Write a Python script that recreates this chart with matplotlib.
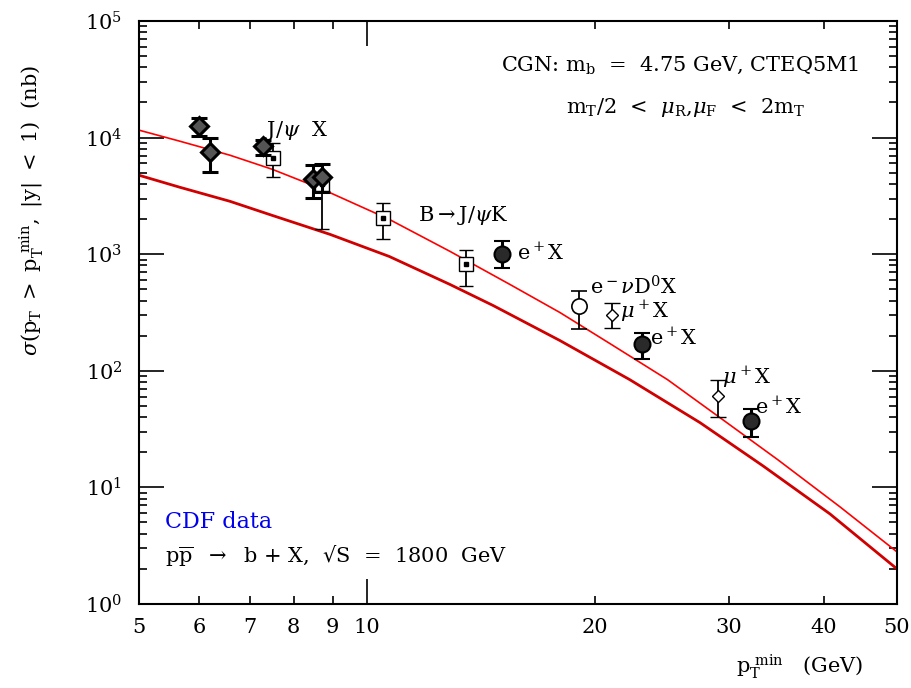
import numpy as np
import matplotlib
matplotlib.use("Agg")
import matplotlib.pyplot as plt
from matplotlib.ticker import FixedLocator, FixedFormatter, LogLocator, NullFormatter

plt.rcParams['font.family'] = ['DejaVu Serif']
plt.rcParams['mathtext.fontset'] = 'dejavuserif'

# theory curves (pT_min in GeV, sigma in nb)
upper_x = [5.0, 5.66, 6.59, 7.49, 8.67, 10.69, 12.86, 15.43, 17.96, 20.91,
           24.9, 29.21, 34.8, 42.05, 50.0]
upper_y = [11580, 9311, 7062, 5353, 3675, 1991, 1057, 550, 316, 171,
           84, 39.6, 17.3, 6.81, 2.8]
lower_x = [5.0, 5.66, 6.59, 7.49, 8.93, 10.69, 12.86, 14.66, 17.96, 22.2,
           27.49, 33.28, 40.78, 50.0]
lower_y = [4753, 3749, 2842, 2154, 1480, 957, 550, 363, 181.7, 84,
           35.9, 15.3, 5.93, 2.0]

# CDF data: J/psi X (filled diamonds)
jpsi_x = [6.0, 6.2, 7.29, 8.48, 8.72]
jpsi_y = [12500, 7490, 8440, 4390, 4570]
jpsi_hi = [14700, 9880, 9500, 5790, 5900]
jpsi_lo = [10280, 5040, 7060, 3010, 3400]

# B -> J/psi K (open squares)
bk_x = [7.51, 8.72, 10.49, 13.5]
bk_y = [6650, 3990, 2030, 817]
bk_hi = [8950, 5900, 2730, 1080]
bk_lo = [4570, 1633, 1340, 529]

# e+ X (filled circles)
ex_x = [15.06, 23.05, 32.1]
ex_y = [996, 171, 37.3]
ex_hi = [1290, 213, 47.3]
ex_lo = [755, 127, 27.2]

# e- nu D0 X (open circle)
ed_x = [19.04]
ed_y = [363]
ed_hi = [479]
ed_lo = [230]

# mu+ X (open diamonds)
mu_x = [21.04, 29.03]
mu_y = [298, 61.2]
mu_hi = [385, 84]
mu_lo = [235, 40.4]

fig = plt.figure(figsize=(9.11, 6.88), dpi=100)
ax = fig.add_axes([0.1526, 0.1221, 0.8320, 0.8474])

ax.plot(upper_x, upper_y, color='#ff0000', lw=1.2, zorder=2)
ax.plot(lower_x, lower_y, color='#d00000', lw=2.0, zorder=2)


def errs(y, lo, hi):
    y = np.array(y)
    return [y - np.array(lo), np.array(hi) - y]


# open squares (drawn under the diamonds)
ax.errorbar(bk_x, bk_y, yerr=errs(bk_y, bk_lo, bk_hi), fmt='s', ms=10,
            mfc='white', mec='black', mew=1.0, ecolor='black', elinewidth=1.3,
            capsize=5, capthick=1.3, zorder=3)
ax.plot(bk_x, bk_y, 's', ms=3, color='black', zorder=4)

ax.errorbar(jpsi_x, jpsi_y, yerr=errs(jpsi_y, jpsi_lo, jpsi_hi), fmt='D', ms=9,
            mfc='#555555', mec='black', mew=2.2, ecolor='black', elinewidth=2.2,
            capsize=6, capthick=2.2, zorder=5)

ax.errorbar(ex_x, ex_y, yerr=errs(ex_y, ex_lo, ex_hi), fmt='o', ms=11.5,
            mfc='#2a2a2a', mec='black', mew=1.5, ecolor='black', elinewidth=2.2,
            capsize=6, capthick=2.2, zorder=5)

ax.errorbar(ed_x, ed_y, yerr=errs(ed_y, ed_lo, ed_hi), fmt='o', ms=11,
            mfc='white', mec='black', mew=1.2, ecolor='black', elinewidth=1.3,
            capsize=6, capthick=1.3, zorder=5)

ax.errorbar(mu_x, mu_y, yerr=errs(mu_y, mu_lo, mu_hi), fmt='D', ms=6.5,
            mfc='white', mec='black', mew=1.0, ecolor='black', elinewidth=1.3,
            capsize=6, capthick=1.3, zorder=5)

ax.set_xscale('log')
ax.set_yscale('log')
ax.set_xlim(5, 50)
ax.set_ylim(1, 1e5)

ax.xaxis.set_major_locator(FixedLocator([10]))
ax.xaxis.set_major_formatter(FixedFormatter(['10']))
minor_x = [5, 6, 7, 8, 9, 20, 30, 40, 50]
ax.xaxis.set_minor_locator(FixedLocator(minor_x))
ax.xaxis.set_minor_formatter(FixedFormatter([str(v) for v in minor_x]))
ax.yaxis.set_major_locator(LogLocator(base=10, numticks=10))
ax.yaxis.set_minor_locator(LogLocator(base=10, subs=np.arange(2, 10), numticks=20))
ax.yaxis.set_minor_formatter(NullFormatter())

ax.tick_params(which='both', direction='in', top=True, right=True, width=1.2,
               labelsize=15)
ax.tick_params(which='major', length=18)
ax.tick_params(which='minor', length=6)
ax.tick_params(axis='x', which='both', pad=10)
ax.tick_params(axis='y', which='both', pad=12)
for s in ax.spines.values():
    s.set_linewidth(1.5)

ax.set_ylabel(r'$\sigma(\mathrm{p_T\ >\ p_T^{\ min},\ |y|\ <\ 1)\ \ (nb)}$', fontsize=15)
ax.yaxis.set_label_coords(-0.123, 0.676)
ax.set_xlabel(r'$\mathrm{p_T^{\ min}\ \ \ (GeV)}$', fontsize=15, va='center')
ax.xaxis.set_label_coords(0.872, -0.108)

ax.text(0.714, 0.925, r'CGN: m$_\mathrm{b}$  =  4.75 GeV, CTEQ5M1',
        transform=ax.transAxes, ha='center', va='center', fontsize=15)
ax.text(0.722, 0.851, r'm$_\mathrm{T}$/2  <  $\mu_\mathrm{R}$,$\mu_\mathrm{F}$  <  2m$_\mathrm{T}$',
        transform=ax.transAxes, ha='center', va='center', fontsize=15)
ax.text(0.034, 0.141, 'CDF data', color='#0000ee', transform=ax.transAxes,
        ha='left', va='center', fontsize=16)
ax.text(0.034, 0.082, r'p$\overline{\mathrm{p}}$  $\rightarrow$  b + X,  √S  =  1800  GeV',
        transform=ax.transAxes, ha='left', va='center', fontsize=15)

labels = [
    (7.33, 11580, r'J/$\psi$  X'),
    (11.67, 2155, r'B$\rightarrow$J/$\psi$K'),
    (15.76, 1036, r'e$^+$X'),
    (19.68, 529, r'e$^-\nu$D$^0$X'),
    (21.55, 323, r'$\mu^+$X'),
    (23.6, 193, r'e$^+$X'),
    (29.4, 87.5, r'$\mu^+$X'),
    (32.5, 49.3, r'e$^+$X'),
]
for lx, ly, txt in labels:
    ax.text(lx, ly, txt, ha='left', va='center', fontsize=15, zorder=6)

fig.savefig('out.png', dpi=100)
